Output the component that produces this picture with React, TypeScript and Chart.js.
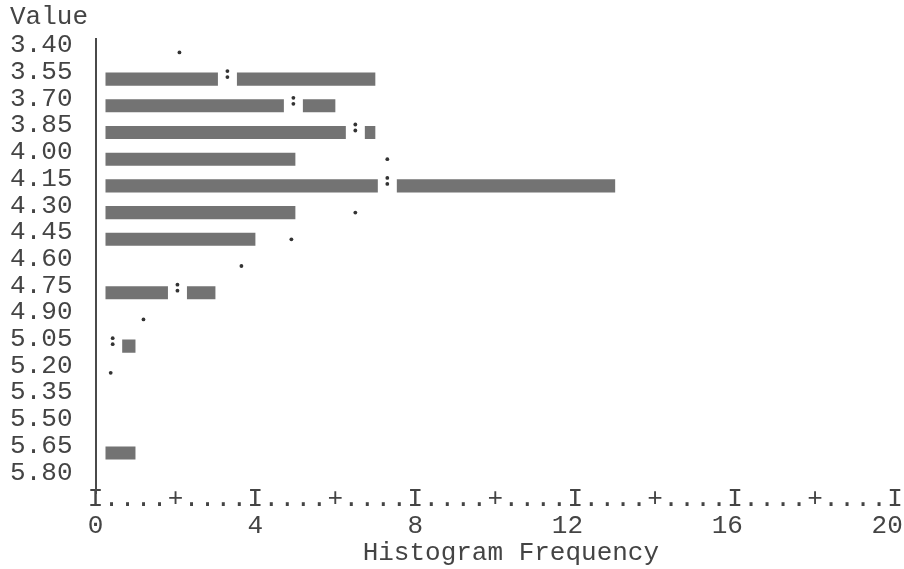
import React, { useEffect, useRef } from 'react';
import { Chart, registerables } from 'chart.js';

Chart.register(...registerables);

// Class midpoints (Value)
const categories = [
  '3.40', '3.55', '3.70', '3.85', '4.00', '4.15', '4.30', '4.45', '4.60',
  '4.75', '4.90', '5.05', '5.20', '5.35', '5.50', '5.65', '5.80',
];
// Histogram frequencies per class
const frequencies = [0, 7, 6, 7, 5, 13, 5, 4, 0, 3, 0, 1, 0, 0, 0, 1, 0];
// Fitted normal curve (expected frequency) per class
const normalCurve: (number | null)[] = [
  2.1, 3.3, 4.95, 6.5, 7.3, 7.3, 6.5, 4.9, 3.65, 2.05, 1.2, 0.43, 0.38, null, null, null, null,
];
// Frequency axis
const xMin = 0;
const xMax = 20;
const xStep = 0.4;

const FONT = 'Liberation Mono';
const TEXT = '#444444';
const BAR = '#737373';
const DOT = '#333333';

const curvePlugin = {
  id: 'curveMarks',
  afterDatasetsDraw(chart: any) {
    const { ctx } = chart;
    const x = chart.scales.x;
    const y = chart.scales.y;
    const meta = chart.getDatasetMeta(0);
    const left = chart.chartArea.left;
    ctx.save();
    const dot = (px: number, py: number) => {
      ctx.fillStyle = DOT;
      ctx.beginPath();
      ctx.arc(px, py, 1.9, 0, Math.PI * 2);
      ctx.fill();
    };
    normalCurve.forEach((c, i) => {
      if (c == null) return;
      const px = x.getPixelForValue(c);
      const py = y.getPixelForValue(i);
      const f = frequencies[i];
      if (f > c) {
        const el = meta.data[i];
        const h = el && isFinite(el.height) ? el.height : 13;
        let gl = px - 9.5;
        if (gl - left < 12) gl = left + 1.5;
        ctx.fillStyle = '#ffffff';
        ctx.fillRect(gl, py - h / 2 - 1, px + 9.5 - gl, h + 2);
        dot(px, py - 8);
        dot(px, py - 2);
      } else {
        dot(px, py);
      }
    });
    ctx.restore();
  },
};

function tickLabel(value: number, index: number): string | string[] {
  if (index % 10 === 0) {
    const s = String(Math.round(value));
    return ['I', s.length > 1 ? s + ' ' : s];
  }
  if (index % 5 === 0) return '+';
  return '.';
}

export default function App() {
  const ref = useRef<HTMLCanvasElement | null>(null);

  useEffect(() => {
    if (!ref.current) return;
    const font = { family: FONT, size: 26, lineHeight: 1.04 };
    const chart = new Chart(ref.current, {
      type: 'bar',
      data: {
        labels: categories,
        datasets: [
          {
            label: 'Histogram Frequency',
            data: frequencies.map((v) => (v > 0 ? v : null)),
            backgroundColor: BAR,
            borderWidth: 0,
            base: 0.25,
            barPercentage: 0.49,
            categoryPercentage: 1,
          } as any,
        ],
      },
      options: {
        indexAxis: 'y',
        animation: false,
        responsive: true,
        maintainAspectRatio: false,
        layout: { padding: { left: 10, right: 9, top: 0, bottom: 2 } },
        plugins: {
          legend: { display: false },
          tooltip: { enabled: false },
          title: {
            display: true,
            text: 'Value',
            align: 'start',
            color: TEXT,
            font: { ...font, weight: 'normal' },
            padding: { top: 4, bottom: 8 },
          },
        },
        scales: {
          x: {
            type: 'linear',
            min: xMin,
            max: xMax,
            grid: { display: false, drawTicks: false },
            border: { display: false },
            ticks: {
              stepSize: xStep,
              maxTicksLimit: 100,
              autoSkip: false,
              maxRotation: 0,
              minRotation: 0,
              padding: -7,
              color: TEXT,
              font,
              callback: (value: any, index: number) => tickLabel(Number(value), index),
            },
            title: {
              display: true,
              text: '  Histogram Frequency',
              color: TEXT,
              font,
              padding: { top: 0, bottom: 0 },
            },
            afterFit: (s: any) => {
              s.paddingLeft = 0;
              s.paddingRight = 0;
              s.height = 74;
              s._computeLabelArea = () => undefined;
            },
          },
          y: {
            type: 'category',
            offset: true,
            grid: { display: false, drawTicks: false },
            border: { display: true, color: '#4a4a4a', width: 2 },
            ticks: {
              autoSkip: false,
              padding: 23,
              labelOffset: -7,
              color: TEXT,
              font,
            },
            afterFit: (s: any) => {
              s.width = 85.5;
            },
          },
        },
      } as any,
      plugins: [curvePlugin],
    });
    return () => chart.destroy();
  }, []);

  return (
    <div style={{ position: 'absolute', left: 0, top: 0, width: 904, height: 569, background: '#fff' }}>
      <canvas ref={ref} />
    </div>
  );
}
